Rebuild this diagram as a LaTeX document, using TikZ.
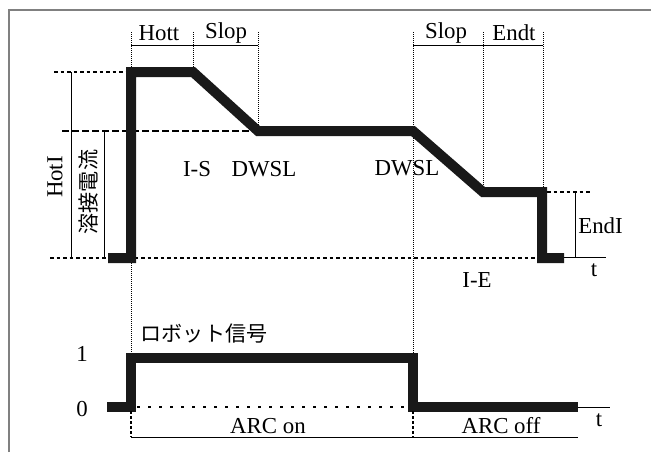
\documentclass[tikz,border=0pt]{standalone}
\usepackage{fontspec}
\setmainfont{Liberation Serif}
\newfontfamily\jpfont{Noto Sans CJK JP}
\begin{document}
\begin{tikzpicture}[x=0.2mm,y=-0.2mm,
  font=\fontsize{13}{15}\selectfont,
  wave/.style={line width=2mm, line join=miter, black!90},
  level/.style={line width=0.5mm, dash pattern=on 0.7mm off 0.6mm},
  setline/.style={line width=0.5mm, dash pattern=on 1.3mm off 0.7mm},
  timeline/.style={line width=0.2mm, dash pattern=on 0.2mm off 0.2mm},
  dimline/.style={line width=0.2mm}]
  \useasboundingbox (0,0) rectangle (651,452);
  % frame
  \draw[gray, line width=0.4mm] (9,452) -- (9,10) -- (651,10);
  % timing guides
  \foreach \x/\y in {131/263, 193/70, 258/131, 413/353, 483/192, 543/192}
    \draw[timeline] (\x,32) -- (\x,\y);
  \draw[timeline] (131,263) -- (131,353);
  % top dimension lines
  \draw[dimline] (131,45) -- (258,45);
  \draw[dimline] (413,45) -- (543,45);
  \node (hott) at (159,33) {Hott};
  \node (slop1) at (226,33) {Slop};
  \node (slop2) at (446,33) {Slop};
  \node (endt) at (514,33) {Endt};
  % current levels
  \draw[level] (54,72) -- (126,72);
  \draw[setline] (62,131) -- (258,131);
  \draw[level] (50,258) -- (537,258);
  \draw[level] (547,192) -- (590,192);
  \draw[dimline] (563,257) -- (606,257);
  \draw[dimline] (71,72) -- (71,258);
  \draw[dimline] (104,131) -- (104,258);
  \draw[dimline] (575,192) -- (575,257);
  \node[rotate=90] (hoti) at (55,177) {HotI};
  \node[rotate=90, font=\jpfont\fontsize{12}{14}\selectfont] (weld) at (88,192) {溶接電流};
  \node[anchor=west, inner sep=0pt] (endi) at (578,226) {EndI};
  \node (t1) at (594,270) {t};
  % welding current
  \draw[wave] (108,258) -- (131,258) -- (131,72) -- (193,72) -- (258,131)
    -- (413,131) -- (483,192) -- (542,192) -- (542,258) -- (564,258);
  \node (is) at (197,169) {I-S};
  \node (dwsl1) at (264,169) {DWSL};
  \node (dwsl2) at (407,168) {DWSL};
  \node (ie) at (477,280) {I-E};
  % robot signal
  \node[font=\jpfont\fontsize{12}{14}\selectfont] (robot) at (204,334) {ロボット信号};
  \node (one) at (82,354) {1};
  \node (zero) at (82,409) {0};
  \draw[line width=0.5mm, dash pattern=on 0.6mm off 1.6mm] (137,407) -- (413,407);
  \draw[dimline] (578,407) -- (610,407);
  \draw[wave] (107,407) -- (131,407) -- (131,358) -- (413,358) -- (413,407) -- (578,407);
  \draw[line width=0.5mm, dash pattern=on 0.6mm off 0.4mm] (131,411) -- (131,437);
  \draw[line width=0.5mm, dash pattern=on 0.6mm off 0.4mm] (413,411) -- (413,437);
  \draw[dimline] (131,437) -- (578,437);
  \node (t2) at (599,420) {t};
  \node (arcon) at (268,426) {ARC on};
  \node (arcoff) at (501,426) {ARC off};
\end{tikzpicture}
\end{document}
